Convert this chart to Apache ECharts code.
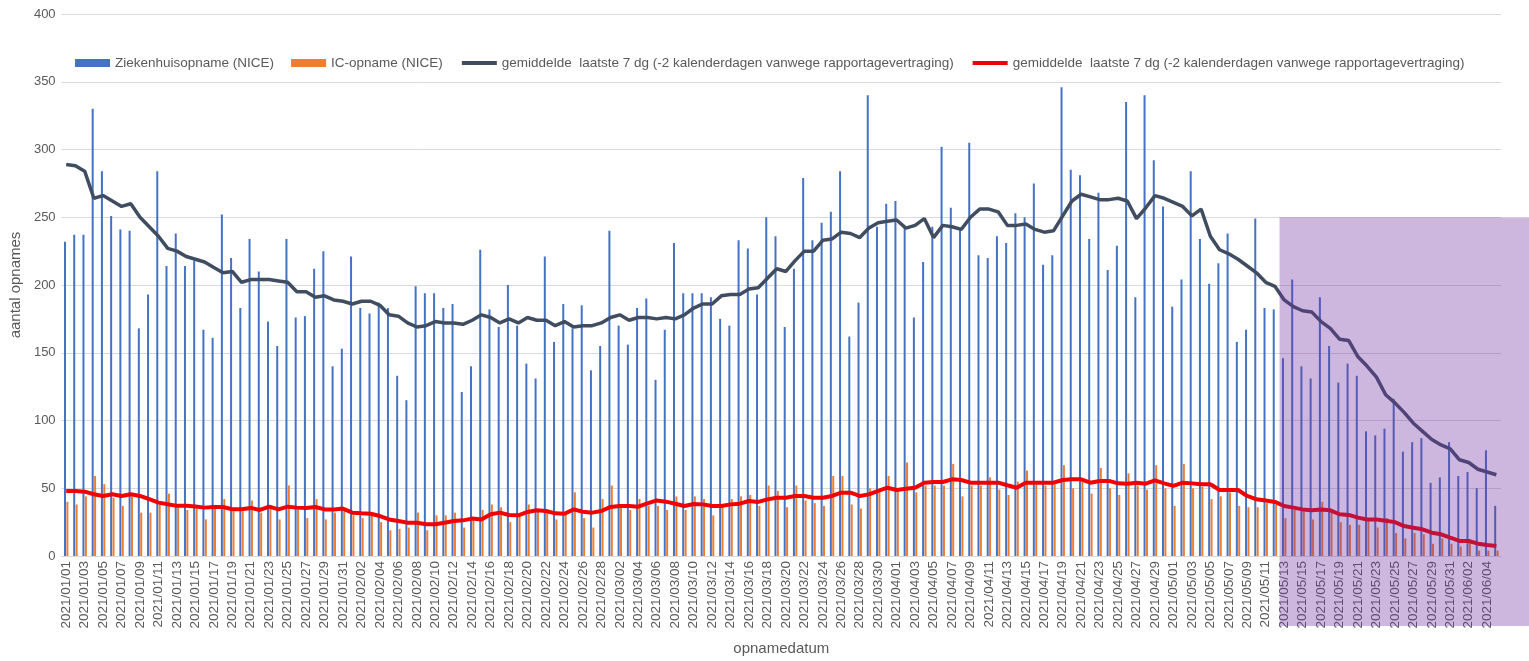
<!DOCTYPE html>
<html>
<head>
<meta charset="utf-8">
<script src="https://cdn.jsdelivr.net/npm/echarts@6/dist/echarts.min.js"></script>
<style>
html,body{margin:0;padding:0;background:#fff;}
#chart{width:1529px;height:661px;}
</style>
</head>
<body>
<div id="chart"></div>
<script>
// ---- data ----
const startDate = [2021, 1, 1];
const dayCount = 156;
const categories = [];
(function(){
  const d = new Date(Date.UTC(startDate[0], startDate[1]-1, startDate[2]));
  for (let i = 0; i < dayCount; i++) {
    const y = d.getUTCFullYear(), m = d.getUTCMonth()+1, dd = d.getUTCDate();
    categories.push(y + '/' + String(m).padStart(2,'0') + '/' + String(dd).padStart(2,'0'));
    d.setUTCDate(d.getUTCDate()+1);
  }
})();

const ziekenhuis = [
232,237,237,330,284,251,241,240,168,193,284,214,238,214,218,167,161,252,220,183,
234,210,173,155,234,176,177,212,225,140,153,221,183,179,187,183,133,115,199,194,
194,183,186,121,140,226,182,169,200,170,142,131,221,158,186,168,185,137,155,240,
170,156,183,190,130,167,231,194,194,194,191,175,170,233,227,193,250,236,169,212,
279,233,246,254,284,162,187,340,243,260,262,242,176,217,243,302,257,242,305,222,
220,236,231,253,250,275,215,222,346,285,281,234,268,211,229,335,191,340,292,258,
184,204,284,234,201,216,238,158,167,249,183,182,146,204,140,131,191,155,128,142,
133,92,89,94,116,77,84,87,54,58,84,59,62,50,78,37
];
const icOpname = [
40,38,44,59,53,43,37,44,32,32,38,46,36,34,35,27,35,42,33,33,
41,32,36,27,52,35,28,42,27,32,34,30,28,30,25,19,20,21,32,19,
30,30,32,21,27,34,38,36,25,30,38,34,32,27,31,47,28,21,42,52,
36,34,42,37,37,34,44,34,44,42,30,36,42,44,45,37,52,48,36,52,
41,39,37,59,59,38,35,50,47,59,49,69,47,52,52,52,68,44,52,52,
58,49,45,55,63,53,52,53,67,50,55,46,65,50,45,61,52,49,67,50,
37,68,50,51,42,44,47,37,36,36,39,38,28,34,33,27,40,32,25,23,
23,26,21,28,17,13,17,16,9,13,9,7,10,4,4,4
];
const gemZiekenhuis = [
289,288,284,264,266,262,258,260,250,243,236,227,225,221,219,217,213,209,210,202,
204,204,204,203,202,195,195,191,192,189,188,186,188,188,185,178,177,172,169,170,
173,172,172,171,174,178,176,172,175,172,176,174,174,170,173,169,170,170,172,176,
178,174,176,176,175,176,175,178,183,186,186,192,193,193,197,198,205,212,210,218,
225,225,233,234,239,238,235,242,246,247,248,242,244,249,235,244,243,241,250,256,
256,254,244,244,245,241,239,240,251,262,267,265,263,263,264,262,249,257,266,264,
261,258,251,256,236,226,223,219,214,209,202,199,189,184,181,180,173,168,160,159,
147,140,132,119,113,106,98,92,86,82,79,71,69,64,62,60
];
const gemIC = [
48,48,47.5,45.6,44.3,45.6,44.3,45.6,44.3,41.9,39.4,38.2,37,37,36.5,35.7,36.2,36.2,34.5,34.5,
35.5,34,36.4,34.4,36.4,35.7,35.4,36.2,34.4,34.4,35,32,31.5,31.2,29.5,27,25.8,24.6,24.6,23.4,
23.4,24.6,25.8,26.3,27.6,27,30.8,32,30.3,30,32.5,33.7,33.2,31.5,31.2,34.4,32.7,32,33.2,36.2,
36.9,36.9,36.4,38.9,41,40.1,38.6,36.9,38.4,38.1,36.9,36.9,38.1,38.6,40.6,39.9,41.8,43,43,44.3,
44.3,43,43,44.3,46.7,46.7,44.3,45.5,48,50.4,48.7,49.7,50.4,54.1,54.6,54.6,56.6,56.1,54.1,54.1,
54.1,54.1,52.2,50.4,54.1,54.1,54.1,54.1,56.1,56.6,56.6,54.1,55.4,55.4,53.6,53.4,54.1,53.4,55.8,53.6,
51.7,54.1,53.6,52.9,52.9,48.7,48.7,48.7,44.3,41.8,41,39.9,36.9,35.7,34.4,33.7,34.4,33.7,30.8,30.3,
28.3,27,27,26,25,22.1,20.9,19.7,17.2,16,13.5,11.1,11.1,9.1,8.1,7.4
];
const yTicks = {min: 0, max: 400, interval: 50};
const seriesNames = [
  'Ziekenhuisopname (NICE)',
  'IC-opname (NICE)',
  'gemiddelde  laatste 7 dg (-2 kalenderdagen vanwege rapportagevertraging)',
  'gemiddelde  laatste 7 dg (-2 kalenderdagen vanwege rapportagevertraging)\u00a0'
];
const highlightStart = '2021/05/13';
const highlightTop = 250;

// ---- chart ----
const chart = echarts.init(document.getElementById('chart'));
const txt = '#595959';
const font = '"Liberation Sans", Arial, sans-serif';
chart.setOption({
  animation: false,
  textStyle: {fontFamily: font},
  grid: {left: 56, right: 28, top: 14, bottom: 98},
  legend: {
    left: 70, top: 51, itemGap: 17, itemWidth: 35, itemHeight: 8,
    textStyle: {color: txt, fontSize: 13.5, fontFamily: font},
    data: [
      {name: seriesNames[0], icon: 'rect'},
      {name: seriesNames[1], icon: 'rect'},
      {name: seriesNames[2], itemStyle: {opacity: 0}, lineStyle: {width: 4, color: '#404d61'}},
      {name: seriesNames[3], itemStyle: {opacity: 0}, lineStyle: {width: 4, color: '#f00000'}}
    ]
  },
  xAxis: {
    type: 'category', data: categories, boundaryGap: true,
    name: 'opnamedatum', nameLocation: 'middle', nameGap: 85,
    nameTextStyle: {color: txt, fontSize: 15},
    axisLine: {lineStyle: {color: '#d9d9d9'}},
    axisTick: {interval: 1, length: 5, lineStyle: {color: '#d9d9d9'}},
    axisLabel: {interval: 1, rotate: 90, color: txt, fontSize: 13.5, margin: 5}
  },
  yAxis: {
    type: 'value', min: yTicks.min, max: yTicks.max, interval: yTicks.interval,
    name: 'aantal opnames', nameLocation: 'middle', nameGap: 26,
    nameTextStyle: {color: txt, fontSize: 15},
    axisLine: {show: false}, axisTick: {show: false},
    axisLabel: {color: txt, fontSize: 13, margin: 6},
    splitLine: {lineStyle: {color: '#d9d9d9'}}
  },
  series: [
    {name: seriesNames[0], type: 'bar', data: ziekenhuis, barWidth: 2, barGap: '20%',
     itemStyle: {color: '#4472c4'}},
    {name: seriesNames[1], type: 'bar', data: icOpname, barWidth: 2,
     itemStyle: {color: '#ed7d31'}},
    {name: seriesNames[2], type: 'line', data: gemZiekenhuis, symbol: 'none',
     lineStyle: {color: '#404d61', width: 3.5}, itemStyle: {color: '#404d61'}, z: 5},
    {name: seriesNames[3], type: 'line', data: gemIC, symbol: 'none',
     lineStyle: {color: '#f00000', width: 4}, itemStyle: {color: '#f00000'}, z: 6}
  ]
});

// highlight overlay placed from axis positions
(function(){
  const idx = categories.indexOf(highlightStart);
  const xA = chart.convertToPixel({xAxisIndex: 0}, categories[idx-1]);
  const xB = chart.convertToPixel({xAxisIndex: 0}, categories[idx]);
  const x0 = (xA + xB) / 2;
  const yTop = chart.convertToPixel({yAxisIndex: 0}, highlightTop);
  const yZero = chart.convertToPixel({yAxisIndex: 0}, 0);
  const W = chart.getWidth();
  chart.setOption({
    graphic: [{
      type: 'rect', z: 100,
      shape: {x: x0, y: yTop, width: W - x0, height: (yZero + 70) - yTop},
      style: {fill: 'rgba(112,48,160,0.35)'}
    }]
  });
})();
</script>
</body>
</html>
